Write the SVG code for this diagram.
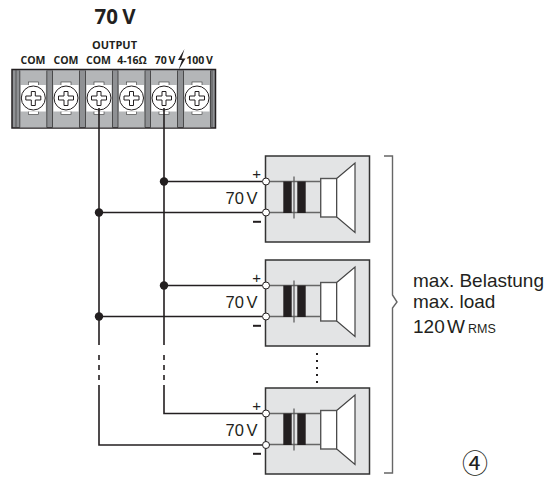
<svg xmlns="http://www.w3.org/2000/svg" width="559" height="479" viewBox="0 0 559 479">
<style>
text{font-family:"Liberation Sans",Arial,sans-serif;fill:#231f20}
.b{font-family:"Open Sans","Noto Sans",sans-serif;font-weight:700;font-size:10.500px;text-anchor:middle}
.w{fill:none;stroke:#231f20;stroke-width:1.6}
.t{fill:#fff;stroke:#231f20;stroke-width:1}
.g{fill:none;stroke:#666;stroke-width:1.4}
.n{font-size:19px}
</style>
<defs>
<g id="screw">
<rect x="-13.500" y="-27.500" width="27" height="57" fill="#b4b6b8"/>
<path d="M-13.500-27.500V29.500M13.500-27.500V29.500" stroke="#333" stroke-width=".8"/>
<rect x="-5" y="-16" width="10" height="3.500" fill="#fff" stroke="#333" stroke-width=".6"/>
<rect x="-5" y="13" width="10" height="3.500" fill="#fff" stroke="#333" stroke-width=".6"/>
<rect x="-12.500" y="-13" width="25" height="26.500" fill="#fff"/>
<circle r="12" fill="#fff" stroke="#231f20" stroke-width="1"/>
<path d="M-2-6.500h4v4.500h5.500v4h-5.500v5.500h-4v-5.500h-5.500v-4h5.500z" fill="#fff" stroke="#231f20" stroke-width="1"/>
</g>
<g id="spk">
<rect x="265.500" y="0.500" width="104" height="86" fill="#e3e4e5" stroke="#333" stroke-width="1.500"/>
<path d="M266 26H321M266 57H321" stroke="#666" stroke-width="1.400" fill="none"/>
<rect x="283.300" y="26" width="8.400" height="31.500" fill="#231f20"/>
<rect x="297.300" y="26" width="8.400" height="31.500" fill="#231f20"/>
<path d="M294 21V63" stroke="#555" stroke-width="1.200"/>
<rect x="320.700" y="23" width="16" height="38.500" fill="#fff" stroke="#555" stroke-width="1.400"/>
<path d="M336.700 23L355 7.500V77L336.700 61.500Z" fill="#fff" stroke="#444" stroke-width="1.200"/>
<text x="256.700" y="23.500" font-size="15" text-anchor="middle">+</text>
<path d="M253 66.300H261" stroke="#231f20" stroke-width="2"/>
<text x="225.500" y="48.500" font-size="16.500" word-spacing="-2">70 V</text>
</g>
</defs>
<text id="title" x="115" y="24" font-size="20.500" font-weight="700" text-anchor="middle" word-spacing="-1" style="font-family:'Open Sans','Noto Sans',sans-serif">70 V</text>
<g id="labels">
<text class="b" x="114.500" y="49" style="font-size:11px">OUTPUT</text>
<text class="b" x="33" y="64">COM</text>
<text class="b" x="66" y="64">COM</text>
<text class="b" x="98.500" y="64">COM</text>
<text class="b" x="132" y="64">4-16Ω</text>
<text class="b" x="165" y="64" word-spacing="-1">70 V</text>
<text class="b" x="199.500" y="64" word-spacing="-1">100 V</text>
<path d="M184.500 49L178 60H182L178.500 70L185.500 58.500H181.500Z" fill="#231f20"/>
</g>
<g id="terminal-block">
<rect x="12" y="69.500" width="203.500" height="58.500" fill="#8f9194" stroke="#231f20" stroke-width="1.500"/>
<path d="M16 70V127M212 70V127" stroke="#444" stroke-width=".8"/>
<use href="#screw" x="33.300" y="98"/>
<use href="#screw" x="66" y="98"/>
<use href="#screw" x="99" y="98"/>
<use href="#screw" x="131.500" y="98"/>
<use href="#screw" x="164" y="98"/>
<use href="#screw" x="197" y="98"/>
</g>
<g id="speaker-1"><use href="#spk" y="155.500"/></g>
<g id="speaker-2"><use href="#spk" y="259.500"/></g>
<g id="speaker-3"><use href="#spk" y="387.500"/></g>
<g id="connectors">
<path class="w" d="M99 108V345M164 108V345M164 181.500H262M99 212.500H262M164 285.500H262M99 316.500H262M164 385V413.500H262M99 385V445H262"/>
<path class="w" d="M99 355V360M99 365V370M99 375V380M164 355V360M164 365V370M164 375V380"/>
<circle cx="164" cy="181.500" r="4.200" fill="#231f20"/>
<circle cx="99" cy="212.500" r="4.200" fill="#231f20"/>
<circle cx="164" cy="285.500" r="4.200" fill="#231f20"/>
<circle cx="99" cy="316.500" r="4.200" fill="#231f20"/>
<circle class="t" cx="266" cy="181.500" r="3.500"/>
<circle class="t" cx="266" cy="212.500" r="3.500"/>
<circle class="t" cx="266" cy="285.500" r="3.500"/>
<circle class="t" cx="266" cy="316.500" r="3.500"/>
<circle class="t" cx="266" cy="413.500" r="3.500"/>
<circle class="t" cx="266" cy="445" r="3.500"/>
</g>
<path id="dots" d="M317 353V383" stroke="#231f20" stroke-width="2" stroke-dasharray="2 5"/>
<path id="bracket" class="g" d="M384 156H392.500V295L397 302L392.500 308V473H384"/>
<g id="note">
<text class="n" x="413" y="286.500">max. Belastung</text>
<text class="n" x="413" y="308">max. load</text>
<text class="n" x="413" y="332.500" word-spacing="-3">120 W</text>
<text x="468" y="332.500" font-size="12.500">RMS</text>
</g>
<text id="num" x="475" y="472.500" font-size="26" text-anchor="middle" style="font-family:'Noto Sans CJK SC',sans-serif">④</text>
</svg>
